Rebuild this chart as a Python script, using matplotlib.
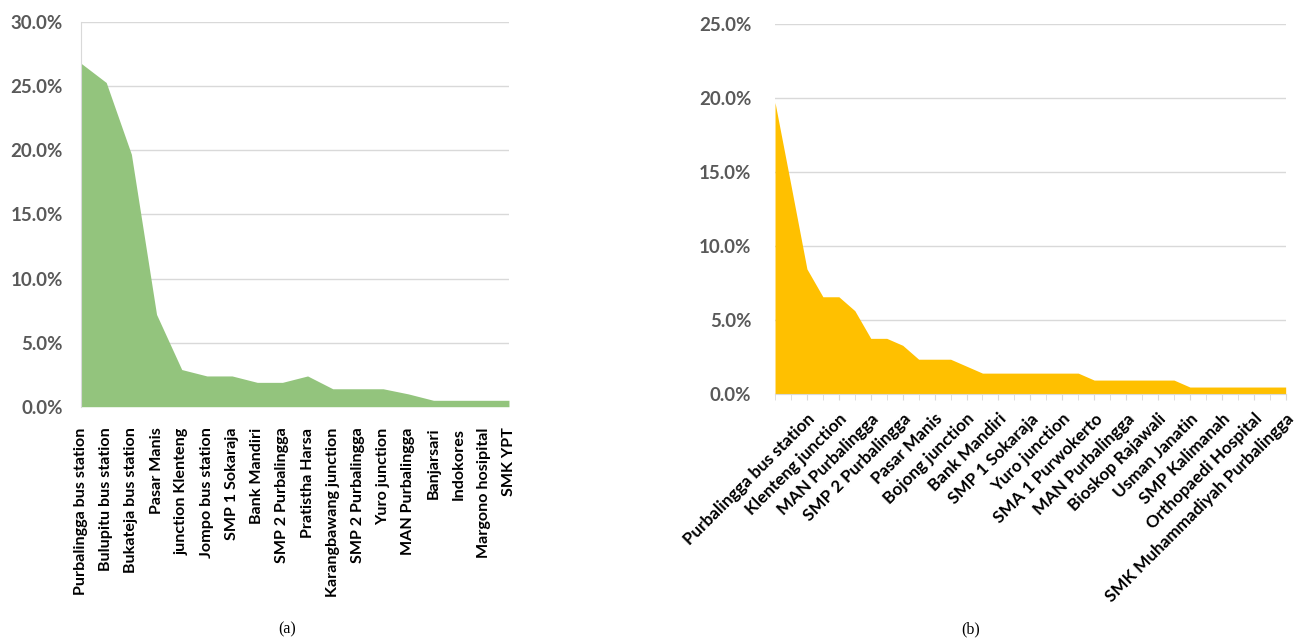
import matplotlib
matplotlib.use("Agg")
import matplotlib.pyplot as plt
from matplotlib.ticker import FuncFormatter

# (a) share of trips by location, percent
left_names = ["Purbalingga bus station", "Bulupitu bus station", "Bukateja bus station",
              "Pasar Manis", "junction Klenteng", "Jompo bus station", "SMP 1 Sokaraja",
              "Bank Mandiri", "SMP 2 Purbalingga", "Pratistha Harsa", "Karangbawang junction",
              "SMP 2 Purbalingga", "Yuro junction", "MAN Purbalingga", "Banjarsari",
              "Indokores", "Margono hosipital", "SMK YPT"]
left_values = [26.8, 25.3, 19.7, 7.2, 2.9, 2.4, 2.4, 1.9, 1.9, 2.4,
               1.4, 1.4, 1.4, 1.0, 0.5, 0.5, 0.5, 0.5]

# (b) 33 points, only every other category is labelled in the source
right_names = ["Purbalingga bus station", "Klenteng junction", "MAN Purbalingga",
               "SMP 2 Purbalingga", "Pasar Manis", "Bojong junction", "Bank Mandiri",
               "SMP 1 Sokaraja", "Yuro junction", "SMA 1 Purwokerto", "MAN Purbalingga",
               "Bioskop Rajawali", "Usman Janatin", "SMP Kalimanah", "Orthopaedi Hospital",
               "SMK Muhammadiyah Purbalingga"]
right_label_pos = list(range(2, 33, 2))
right_values = [19.7, 14.1, 8.45, 6.57, 6.57, 5.63, 3.76, 3.76, 3.29, 2.35, 2.35,
                2.35, 1.88, 1.41, 1.41, 1.41, 1.41, 1.41, 1.41, 1.41, 0.94, 0.94,
                0.94, 0.94, 0.94, 0.94, 0.47, 0.47, 0.47, 0.47, 0.47, 0.47, 0.47]

plt.rcParams['font.family'] = ['Lato', 'DejaVu Sans']
pct = FuncFormatter(lambda v, p: "%.1f%%" % v)
grid_col = "#d9d9d9"
tick_col = "#595959"

fig = plt.figure(figsize=(13.03, 6.42), dpi=100)

# left chart
ax1 = fig.add_axes([0.0622, 0.3665, 0.3284, 0.5988])
x1 = range(len(left_values))
ax1.fill_between(x1, left_values, 0, color="#93c47d", linewidth=0, zorder=2)
ax1.set_xlim(0, len(left_values) - 1)
ax1.set_ylim(0, 30)
ax1.set_yticks(range(0, 31, 5))
ax1.yaxis.set_major_formatter(pct)
ax1.grid(axis="y", color=grid_col, linewidth=1, zorder=0)
ax1.set_axisbelow(True)
for s in ["top", "right", "bottom"]:
    ax1.spines[s].set_visible(False)
ax1.spines["left"].set_color(grid_col)
ax1.set_xticks(list(x1))
ax1.set_xticklabels(left_names, rotation=90, fontsize=11.6, fontweight="bold", va="top")
ax1.tick_params(axis="x", length=0, pad=15)
ax1.tick_params(axis="y", length=0, pad=13, labelsize=13.5, labelcolor=tick_col)
for t in ax1.get_yticklabels():
    t.set_fontweight("bold")

# right chart
ax2 = fig.add_axes([0.5948, 0.3863, 0.3919, 0.5763])
x2 = range(len(right_values))
ax2.fill_between(x2, right_values, 0, color="#ffc000", linewidth=0, zorder=2)
ax2.set_xlim(0, len(right_values) - 1)
ax2.set_ylim(0, 25)
ax2.set_yticks(range(0, 26, 5))
ax2.yaxis.set_major_formatter(pct)
ax2.grid(axis="y", color=grid_col, linewidth=1, zorder=0)
ax2.set_axisbelow(True)
for s in ["top", "right", "left"]:
    ax2.spines[s].set_visible(False)
ax2.spines["bottom"].set_color(grid_col)
ax2.spines["bottom"].set_zorder(3)
ax2.set_xticks(list(x2), minor=True)
ax2.set_xticks(right_label_pos)
ax2.set_xticklabels(right_names, rotation=45, ha="right", va="top",
                    rotation_mode="anchor", fontsize=12.3, fontweight="bold")
ax2.tick_params(axis="x", which="both", length=4, color=grid_col, pad=8)
ax2.tick_params(axis="y", length=0, pad=17, labelsize=13.5, labelcolor=tick_col)
for t in ax2.get_yticklabels():
    t.set_fontweight("bold")

fig.text(0.2203, 0.019, "(a)", family="Liberation Serif", fontsize=11.5, ha="center", va="center")
fig.text(0.745, 0.019, "(b)", family="Liberation Serif", fontsize=11.5, ha="center", va="center")

fig.savefig("out.png", dpi=100)
